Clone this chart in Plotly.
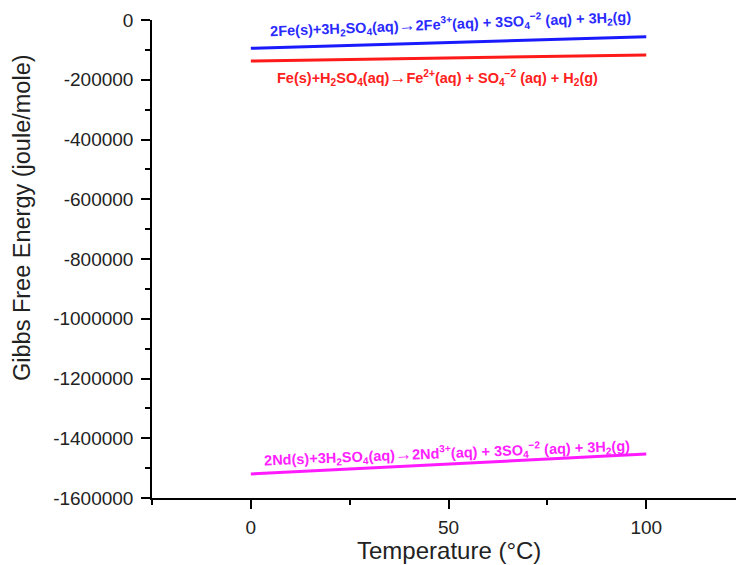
import plotly.graph_objects as go

# Data
temperature = [0, 100]
fe3_reaction = [-94700, -55900]      # 2Fe + 3H2SO4 -> 2Fe3+ ...
fe2_reaction = [-137200, -117100]    # Fe + H2SO4 -> Fe2+ ...
nd_reaction = [-1519600, -1452700]   # 2Nd + 3H2SO4 -> 2Nd3+ ...

y_ticks = [0, -200000, -400000, -600000, -800000, -1000000, -1200000, -1400000, -1600000]
y_ticktext = [str(v) for v in y_ticks]
x_ticks = [0, 50, 100]

ARROW = "<span style='font-size:17px'>→</span>"
label_fe3 = "2Fe(s)+3H<sub>2</sub>SO<sub>4</sub>(aq)" + ARROW + "2Fe<sup>3+</sup>(aq) + 3SO<sub>4</sub><sup>−2</sup> (aq) + 3H<sub>2</sub>(g)"
label_fe2 = "Fe(s)+H<sub>2</sub>SO<sub>4</sub>(aq)" + ARROW + "Fe<sup>2+</sup>(aq) + SO<sub>4</sub><sup>−2</sup> (aq) + H<sub>2</sub>(g)"
label_nd = "2Nd(s)+3H<sub>2</sub>SO<sub>4</sub>(aq)" + ARROW + "2Nd<sup>3+</sup>(aq) + 3SO<sub>4</sub><sup>−2</sup> (aq) + 3H<sub>2</sub>(g)"

FONT = "Arial, 'Liberation Sans', sans-serif"

fig = go.Figure()
fig.add_trace(go.Scatter(x=temperature, y=fe3_reaction, mode="lines",
                         line=dict(color="#1a1aff", width=3), showlegend=False))
fig.add_trace(go.Scatter(x=temperature, y=fe2_reaction, mode="lines",
                         line=dict(color="#ff1a1a", width=3), showlegend=False))
fig.add_trace(go.Scatter(x=temperature, y=nd_reaction, mode="lines",
                         line=dict(color="#ff1aff", width=3), showlegend=False))

L, R, T, B = 152, 736, 20, 498
W, H = 736, 565

def px(xp):
    return (xp - L) / (R - L)

def py(yp):
    return (B - yp) / (B - T)

LBL = 14.5
annotations = [
    dict(text="<b>" + label_fe3 + "</b>", x=px(450), y=py(24),
         font=dict(color="#2a2aff", size=LBL, family=FONT), textangle=-2.3),
    dict(text="<b>" + label_fe2 + "</b>", x=px(437), y=py(78),
         font=dict(color="#ff2020", size=LBL, family=FONT), textangle=0),
    dict(text="<b>" + label_nd + "</b>", x=px(447), y=py(453),
         font=dict(color="#ff20ff", size=LBL, family=FONT), textangle=-2.3),
    dict(text="Temperature (°C)", x=px(449), y=py(550),
         font=dict(color="#222", size=24, family=FONT)),
    dict(text="Gibbs Free Energy (joule/mole)", x=px(22), y=py(218), textangle=-90,
         font=dict(color="#222", size=23.5, family=FONT)),
]
for a in annotations:
    a.update(xref="paper", yref="paper", showarrow=False, xanchor="center", yanchor="middle")

fig.update_layout(
    width=W, height=H,
    margin=dict(l=L, r=W - R, t=T, b=H - B, pad=0),
    plot_bgcolor="white", paper_bgcolor="white",
    font=dict(family=FONT, color="#222"),
    annotations=annotations,
    xaxis=dict(range=[-25, 122.7], tickvals=x_ticks, showline=True, linecolor="black",
               linewidth=1.5, ticks="outside", ticklen=9, tickwidth=1.5, tickcolor="black",
               showgrid=False, zeroline=False, tickfont=dict(size=19, color="#222"),
               ticklabelstandoff=2,
               minor=dict(dtick=25, tick0=0, ticks="outside", ticklen=5, tickwidth=1.5,
                          tickcolor="black", showgrid=False)),
    yaxis=dict(range=[-1600000, 0], tickvals=y_ticks, ticktext=y_ticktext, showline=True,
               linecolor="black", linewidth=1.5, ticks="outside", ticklen=9, tickwidth=1.5,
               tickcolor="black", showgrid=False, zeroline=False,
               tickfont=dict(size=19, color="#222"), ticklabelstandoff=4,
               minor=dict(dtick=100000, tick0=0, ticks="outside", ticklen=5, tickwidth=1.5,
                          tickcolor="black", showgrid=False)),
)

fig.write_html("out.html")
